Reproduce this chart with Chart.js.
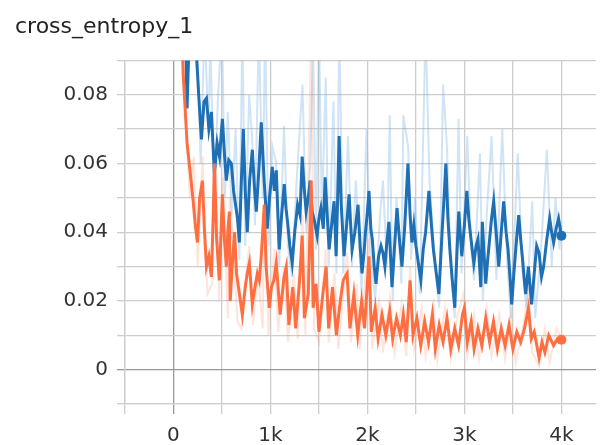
<!DOCTYPE html>
<html>
<head>
<meta charset="utf-8">
<script src="https://cdn.jsdelivr.net/npm/chart.js@4.4.1/dist/chart.umd.min.js"></script>
<style>
  html, body { margin: 0; padding: 0; background: #fff; overflow: hidden; }
  canvas { display: block; }
</style>
</head>
<body>
<canvas id="chart" width="601" height="445" style="width:601px;height:445px"></canvas>
<script>
// --- data (step, value) ---
const blueSteps = [110, 140, 170, 200, 230, 260, 288, 315, 340, 365, 391, 422, 450, 475, 504, 525, 545, 570, 597, 620,
  640, 660, 679, 700, 720, 740, 761, 785, 813, 835, 854, 880, 905, 935, 967, 990, 1019, 1040, 1060, 1090,
  1115, 1142, 1160, 1180, 1200, 1224, 1250, 1280, 1305, 1327, 1350, 1368, 1390, 1409, 1430, 1455, 1481, 1500, 1520, 1545,
  1564, 1585, 1605, 1630, 1656, 1677, 1693, 1708, 1730, 1759, 1785, 1811, 1825, 1842, 1870, 1903, 1925, 1944, 1965, 1980,
  2000, 2016, 2035, 2050, 2070, 2088, 2115, 2140, 2160, 2180, 2200, 2222, 2253, 2280, 2305, 2330, 2356, 2385, 2418, 2440,
  2459, 2479, 2500, 2525, 2551, 2575, 2600, 2634, 2660, 2680, 2710, 2737, 2755, 2770, 2790, 2809, 2830, 2850, 2875, 2901,
  2920, 2942, 2973, 3000, 3025, 3045, 3060, 3080, 3097, 3120, 3140, 3169, 3185, 3200, 3220, 3240, 3260, 3280, 3302, 3330,
  3354, 3380, 3405, 3430, 3450, 3470, 3488, 3510, 3535, 3560, 3580, 3600, 3615, 3632, 3660, 3693, 3720, 3745, 3770, 3795,
  3817, 3850, 3879, 3900, 3920, 3945, 3971, 4000];
const blueSmooth = [0.12, 0.076, 0.105, 0.11, 0.095, 0.08, 0.067, 0.078, 0.079, 0.070, 0.075, 0.057, 0.066, 0.062, 0.073, 0.063, 0.055, 0.061, 0.060, 0.052,
  0.048, 0.044, 0.037, 0.055, 0.070, 0.052, 0.040, 0.055, 0.064, 0.053, 0.046, 0.058, 0.072, 0.055, 0.041, 0.050, 0.059, 0.052, 0.058, 0.035,
  0.045, 0.054, 0.047, 0.042, 0.036, 0.031, 0.040, 0.048, 0.045, 0.062, 0.052, 0.046, 0.050, 0.055, 0.046, 0.043, 0.039, 0.044, 0.047, 0.041,
  0.056, 0.045, 0.035, 0.042, 0.049, 0.033, 0.050, 0.068, 0.048, 0.033, 0.042, 0.051, 0.043, 0.035, 0.040, 0.048, 0.036, 0.028, 0.034, 0.040,
  0.046, 0.052, 0.041, 0.038, 0.030, 0.025, 0.033, 0.036, 0.034, 0.030, 0.037, 0.043, 0.024, 0.036, 0.047, 0.038, 0.030, 0.042, 0.060, 0.045,
  0.037, 0.042, 0.036, 0.031, 0.026, 0.035, 0.040, 0.052, 0.042, 0.035, 0.028, 0.022, 0.032, 0.040, 0.050, 0.060, 0.044, 0.035, 0.026, 0.018,
  0.032, 0.046, 0.033, 0.042, 0.052, 0.044, 0.040, 0.035, 0.031, 0.036, 0.038, 0.024, 0.043, 0.035, 0.025, 0.032, 0.038, 0.044, 0.049, 0.039,
  0.030, 0.040, 0.049, 0.040, 0.035, 0.027, 0.019, 0.028, 0.037, 0.045, 0.038, 0.032, 0.027, 0.022, 0.030, 0.019, 0.028, 0.036, 0.034, 0.027,
  0.030, 0.038, 0.044, 0.040, 0.037, 0.041, 0.044, 0.039];

const blueRawSteps = [110, 160, 200, 240, 280, 320, 360, 380, 420, 460, 500, 530, 560, 600, 640, 680, 710, 740, 780, 810,
  840, 880, 920, 945, 980, 1020, 1060, 1090, 1140, 1180, 1220, 1270, 1330, 1370, 1410, 1440, 1470, 1500, 1530, 1570,
  1600, 1650, 1680, 1710, 1750, 1800, 1840, 1880, 1940, 1990, 2030, 2080, 2130, 2160, 2200, 2230, 2260, 2300, 2350, 2370,
  2420, 2450, 2490, 2540, 2600, 2640, 2700, 2740, 2780, 2820, 2860, 2900, 2940, 2970, 3030, 3070, 3100, 3160, 3190, 3230,
  3280, 3330, 3390, 3440, 3480, 3550, 3600, 3640, 3700, 3730, 3790, 3850, 3900, 3940, 3980, 4000];
const blueRaw = [0.13, 0.09, 0.12, 0.10, 0.06, 0.10, 0.07, 0.095, 0.05, 0.08, 0.10, 0.05, 0.075, 0.045, 0.07, 0.032, 0.10, 0.036, 0.08, 0.068,
  0.042, 0.10, 0.05, 0.10, 0.036, 0.065, 0.06, 0.030, 0.071, 0.036, 0.027, 0.055, 0.083, 0.040, 0.06, 0.095, 0.035, 0.10, 0.045, 0.085,
  0.030, 0.078, 0.028, 0.10, 0.028, 0.068, 0.030, 0.055, 0.022, 0.070, 0.035, 0.020, 0.045, 0.055, 0.030, 0.074, 0.020, 0.05, 0.025, 0.074,
  0.065, 0.032, 0.05, 0.022, 0.10, 0.055, 0.030, 0.018, 0.083, 0.065, 0.030, 0.015, 0.073, 0.028, 0.068, 0.035, 0.026, 0.063, 0.020, 0.045,
  0.068, 0.026, 0.070, 0.032, 0.015, 0.063, 0.028, 0.018, 0.049, 0.015, 0.035, 0.064, 0.030, 0.050, 0.035, 0.042];

const orangeSteps = [60, 100, 140, 170, 200, 225, 247, 270, 298, 320, 340, 365, 391, 410, 422, 445, 473, 490, 504, 525,
  545, 560, 576, 585, 605, 630, 650, 680, 710, 740, 760, 782, 813, 840, 865, 885, 905, 920, 936, 955,
  988, 1010, 1035, 1060, 1100, 1140, 1163, 1190, 1230, 1260, 1300, 1327, 1350, 1390, 1420, 1440, 1470, 1500, 1540, 1574,
  1600, 1640, 1680, 1720, 1750, 1790, 1820, 1860, 1900, 1940, 1970, 2016, 2040, 2080, 2110, 2150, 2190, 2230, 2260, 2300,
  2340, 2370, 2400, 2440, 2470, 2510, 2550, 2590, 2630, 2670, 2700, 2740, 2780, 2820, 2860, 2900, 2940, 2980, 3000, 3030,
  3070, 3100, 3140, 3180, 3220, 3260, 3300, 3340, 3380, 3420, 3460, 3500, 3540, 3580, 3620, 3660, 3690, 3720, 3770, 3800,
  3830, 3870, 3920, 3960, 4000];
const orangeSmooth = [0.12, 0.086, 0.066, 0.058, 0.050, 0.042, 0.037, 0.050, 0.055, 0.040, 0.030, 0.033, 0.027, 0.045, 0.060, 0.038, 0.026, 0.040, 0.051, 0.038,
  0.030, 0.040, 0.046, 0.020, 0.030, 0.040, 0.028, 0.022, 0.016, 0.024, 0.028, 0.031, 0.019, 0.024, 0.028, 0.026, 0.033, 0.040, 0.048, 0.030,
  0.018, 0.024, 0.026, 0.031, 0.016, 0.027, 0.030, 0.013, 0.024, 0.012, 0.026, 0.039, 0.015, 0.022, 0.055, 0.018, 0.025, 0.011, 0.022, 0.030,
  0.012, 0.024, 0.010, 0.020, 0.026, 0.028, 0.012, 0.022, 0.010, 0.020, 0.012, 0.033, 0.011, 0.018, 0.009, 0.016, 0.010, 0.017, 0.009, 0.015,
  0.010, 0.016, 0.008, 0.026, 0.010, 0.015, 0.007, 0.014, 0.008, 0.016, 0.006, 0.013, 0.008, 0.015, 0.006, 0.012, 0.007, 0.016, 0.018, 0.008,
  0.014, 0.006, 0.012, 0.007, 0.015, 0.008, 0.014, 0.006, 0.012, 0.007, 0.013, 0.006, 0.011, 0.008, 0.012, 0.018, 0.009, 0.011, 0.0035, 0.008,
  0.005, 0.010, 0.007, 0.009, 0.0087];

const orangeRawSteps = [50, 90, 130, 170, 210, 250, 300, 350, 400, 430, 470, 510, 560, 580, 620, 660, 700, 780, 820, 870,
  920, 940, 980, 1040, 1080, 1140, 1180, 1240, 1280, 1330, 1360, 1420, 1450, 1500, 1570, 1600, 1660, 1700, 1790, 1830,
  1890, 1920, 2010, 2050, 2120, 2160, 2230, 2280, 2350, 2400, 2440, 2480, 2560, 2600, 2680, 2720, 2800, 2860, 2930, 2990,
  3030, 3100, 3150, 3230, 3280, 3360, 3420, 3480, 3530, 3620, 3660, 3700, 3770, 3830, 3880, 3950, 4000];
const orangeRaw = [0.13, 0.095, 0.07, 0.05, 0.062, 0.030, 0.062, 0.022, 0.025, 0.066, 0.020, 0.056, 0.015, 0.05, 0.035, 0.014, 0.012, 0.036, 0.013, 0.028,
  0.012, 0.052, 0.010, 0.035, 0.011, 0.030, 0.008, 0.028, 0.009, 0.045, 0.010, 0.10, 0.012, 0.008, 0.035, 0.008, 0.028, 0.006, 0.034, 0.008,
  0.025, 0.006, 0.038, 0.006, 0.020, 0.005, 0.021, 0.005, 0.019, 0.004, 0.030, 0.006, 0.018, 0.004, 0.019, 0.003, 0.018, 0.003, 0.016, 0.022,
  0.004, 0.016, 0.003, 0.018, 0.004, 0.016, 0.003, 0.016, 0.002, 0.015, 0.022, 0.005, 0.001, 0.012, 0.002, 0.012, 0.009];

// ticks: every grid line, labels only on some
const xTickValues = [-500, 0, 500, 1000, 1500, 2000, 2500, 3000, 3500, 4000];
const xTickLabels = { 0: '0', 1000: '1k', 2000: '2k', 3000: '3k', 4000: '4k' };
const yTickValues = [-0.01, 0, 0.01, 0.02, 0.03, 0.04, 0.05, 0.06, 0.07, 0.08, 0.09];
const yTickLabels = { 0: '0', 2: '0.02', 4: '0.04', 6: '0.06', 8: '0.08' };

// --- build points ---
function pts(xs, ys) {
  return xs.map((x, i) => ({ x: x, y: ys[i] }));
}

function lastDot(c) {
  return c.dataIndex === c.dataset.data.length - 1 ? 5 : 0;
}

const BLUE = '#1f6fb5';
const ORANGE = '#ff6e40';

const datasets = [
  { data: pts(orangeSteps, orangeSmooth), borderColor: ORANGE, backgroundColor: ORANGE,
    borderWidth: 3, pointRadius: lastDot, pointBorderWidth: 0 },
  { data: pts(blueSteps, blueSmooth), borderColor: BLUE, backgroundColor: BLUE,
    borderWidth: 3, pointRadius: lastDot, pointBorderWidth: 0 },
  { data: pts(orangeRawSteps, orangeRaw), borderColor: 'rgba(255,130,95,0.22)',
    borderWidth: 2, pointRadius: 0 },
  { data: pts(blueRawSteps, blueRaw), borderColor: 'rgba(110,170,225,0.32)',
    borderWidth: 2, pointRadius: 0 }
];

const gridColor = c => (c.tick && Math.abs(c.tick.value) < 1e-9) ? '#999999' : '#cdcdcd';

new Chart(document.getElementById('chart'), {
  type: 'line',
  data: { datasets: datasets },
  options: {
    responsive: false,
    animation: false,
    devicePixelRatio: 1,
    layout: { padding: { left: 15, top: 0, right: 0, bottom: 0 } },
    elements: { line: { tension: 0 } },
    plugins: {
      legend: { display: false },
      tooltip: { enabled: false },
      title: {
        display: true,
        text: 'cross_entropy_1',
        align: 'start',
        color: '#222',
        font: { family: 'DejaVu Sans', size: 22, weight: 'normal' },
        padding: { top: 14, bottom: 20 }
      }
    },
    scales: {
      x: {
        type: 'linear',
        bounds: 'data',
        min: -500,
        max: 4357,
        afterBuildTicks: axis => { axis.ticks = xTickValues.map(v => ({ value: v })); },
        afterFit: scale => { scale.height = 41; },
        ticks: {
          autoSkip: false,
          maxRotation: 0,
          color: '#333',
          padding: 10,
          font: { family: 'DejaVu Sans', size: 20 },
          callback: v => xTickLabels[v] || ''
        },
        grid: { color: gridColor, lineWidth: 1.3, tickLength: 10 },
        border: { color: '#cdcdcd', width: 1.3 }
      },
      y: {
        type: 'linear',
        bounds: 'data',
        min: -0.01,
        max: 0.09,
        afterBuildTicks: axis => { axis.ticks = yTickValues.map(v => ({ value: v })); },
        afterFit: scale => { scale.width = 110; },
        ticks: {
          autoSkip: false,
          color: '#333',
          padding: 9,
          font: { family: 'DejaVu Sans', size: 20 },
          callback: v => {
            const k = Math.round(v * 100);
            return yTickLabels[k] || '';
          }
        },
        grid: { color: gridColor, lineWidth: 1.3, tickLength: 8 },
        border: { color: '#cdcdcd', width: 1.3 }
      }
    }
  }
});
</script>
</body>
</html>
